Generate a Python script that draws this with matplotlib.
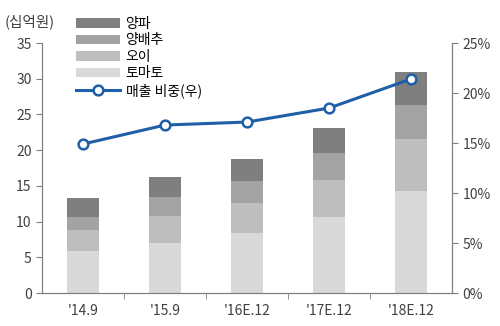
import numpy as np
import matplotlib
matplotlib.use('Agg')
import matplotlib.pyplot as plt

plt.rcParams['font.family'] = ['Noto Sans CJK KR', 'DejaVu Sans']

categories = ["'14.9", "'15.9", "'16E.12", "'17E.12", "'18E.12"]
tomato = [5.9, 7.0, 8.4, 10.6, 14.3]
cucumber = [2.9, 3.8, 4.2, 5.2, 7.3]
cabbage = [1.8, 2.6, 3.1, 3.8, 4.7]
onion = [2.7, 2.8, 3.1, 3.5, 4.7]
share = [14.9, 16.8, 17.1, 18.5, 21.4]

x = np.arange(len(categories))
w = 0.4
grey = '#7f7f7f'

fig = plt.figure(figsize=(5, 3.26), dpi=100)
ax = fig.add_axes([0.084, 0.101, 0.82, 0.767])

b1 = np.array(tomato)
b2 = b1 + np.array(cucumber)
b3 = b2 + np.array(cabbage)
ax.bar(x, onion, w, bottom=b3, color='#7f7f7f', label='양파')
ax.bar(x, cabbage, w, bottom=b2, color='#a3a3a3', label='양배추')
ax.bar(x, cucumber, w, bottom=b1, color='#bebebe', label='오이')
ax.bar(x, tomato, w, color='#d9d9d9', label='토마토')

ax.set_xlim(-0.5, 4.5)
ax.set_ylim(0, 35)
ax.set_yticks(range(0, 36, 5))
ax.set_xticks(x)
ax.set_xticklabels(categories)
ax.set_xticks(np.arange(0.5, 4.5, 1), minor=True)
ax.tick_params(axis='x', which='major', length=0, pad=8)
ax.tick_params(axis='x', which='minor', length=4, color=grey)
ax.tick_params(axis='y', length=4, color=grey)
ax.tick_params(labelsize=10, labelcolor='#404040')

ax2 = ax.twinx()
ax2.plot(x, share, color='#1f5fa8', lw=2.2, marker='o', ms=7,
         mfc='white', mec='#1f5fa8', mew=1.8, label='매출 비중(우)')
ax2.set_ylim(0, 25)
ax2.set_yticks(range(0, 26, 5))
ax2.set_yticklabels([f'{v}%' for v in range(0, 26, 5)])
ax2.tick_params(axis='y', length=4, color=grey, labelsize=10, labelcolor='#404040')

for a in (ax, ax2):
    a.spines['top'].set_visible(False)
    for s in ('left', 'right', 'bottom'):
        a.spines[s].set_color(grey)

h1, l1 = ax.get_legend_handles_labels()
h2, l2 = ax2.get_legend_handles_labels()
fig.legend(h1 + h2, l1 + l2, loc='upper left', bbox_to_anchor=(0.14, 0.965),
           frameon=False, fontsize=10, handlelength=3.2, handleheight=0.7,
           labelspacing=0.18, handletextpad=0.4, borderaxespad=0)

fig.text(0.01, 0.92, '(십억원)', fontsize=10.5, color='#404040')

fig.savefig('out.png', dpi=100)
